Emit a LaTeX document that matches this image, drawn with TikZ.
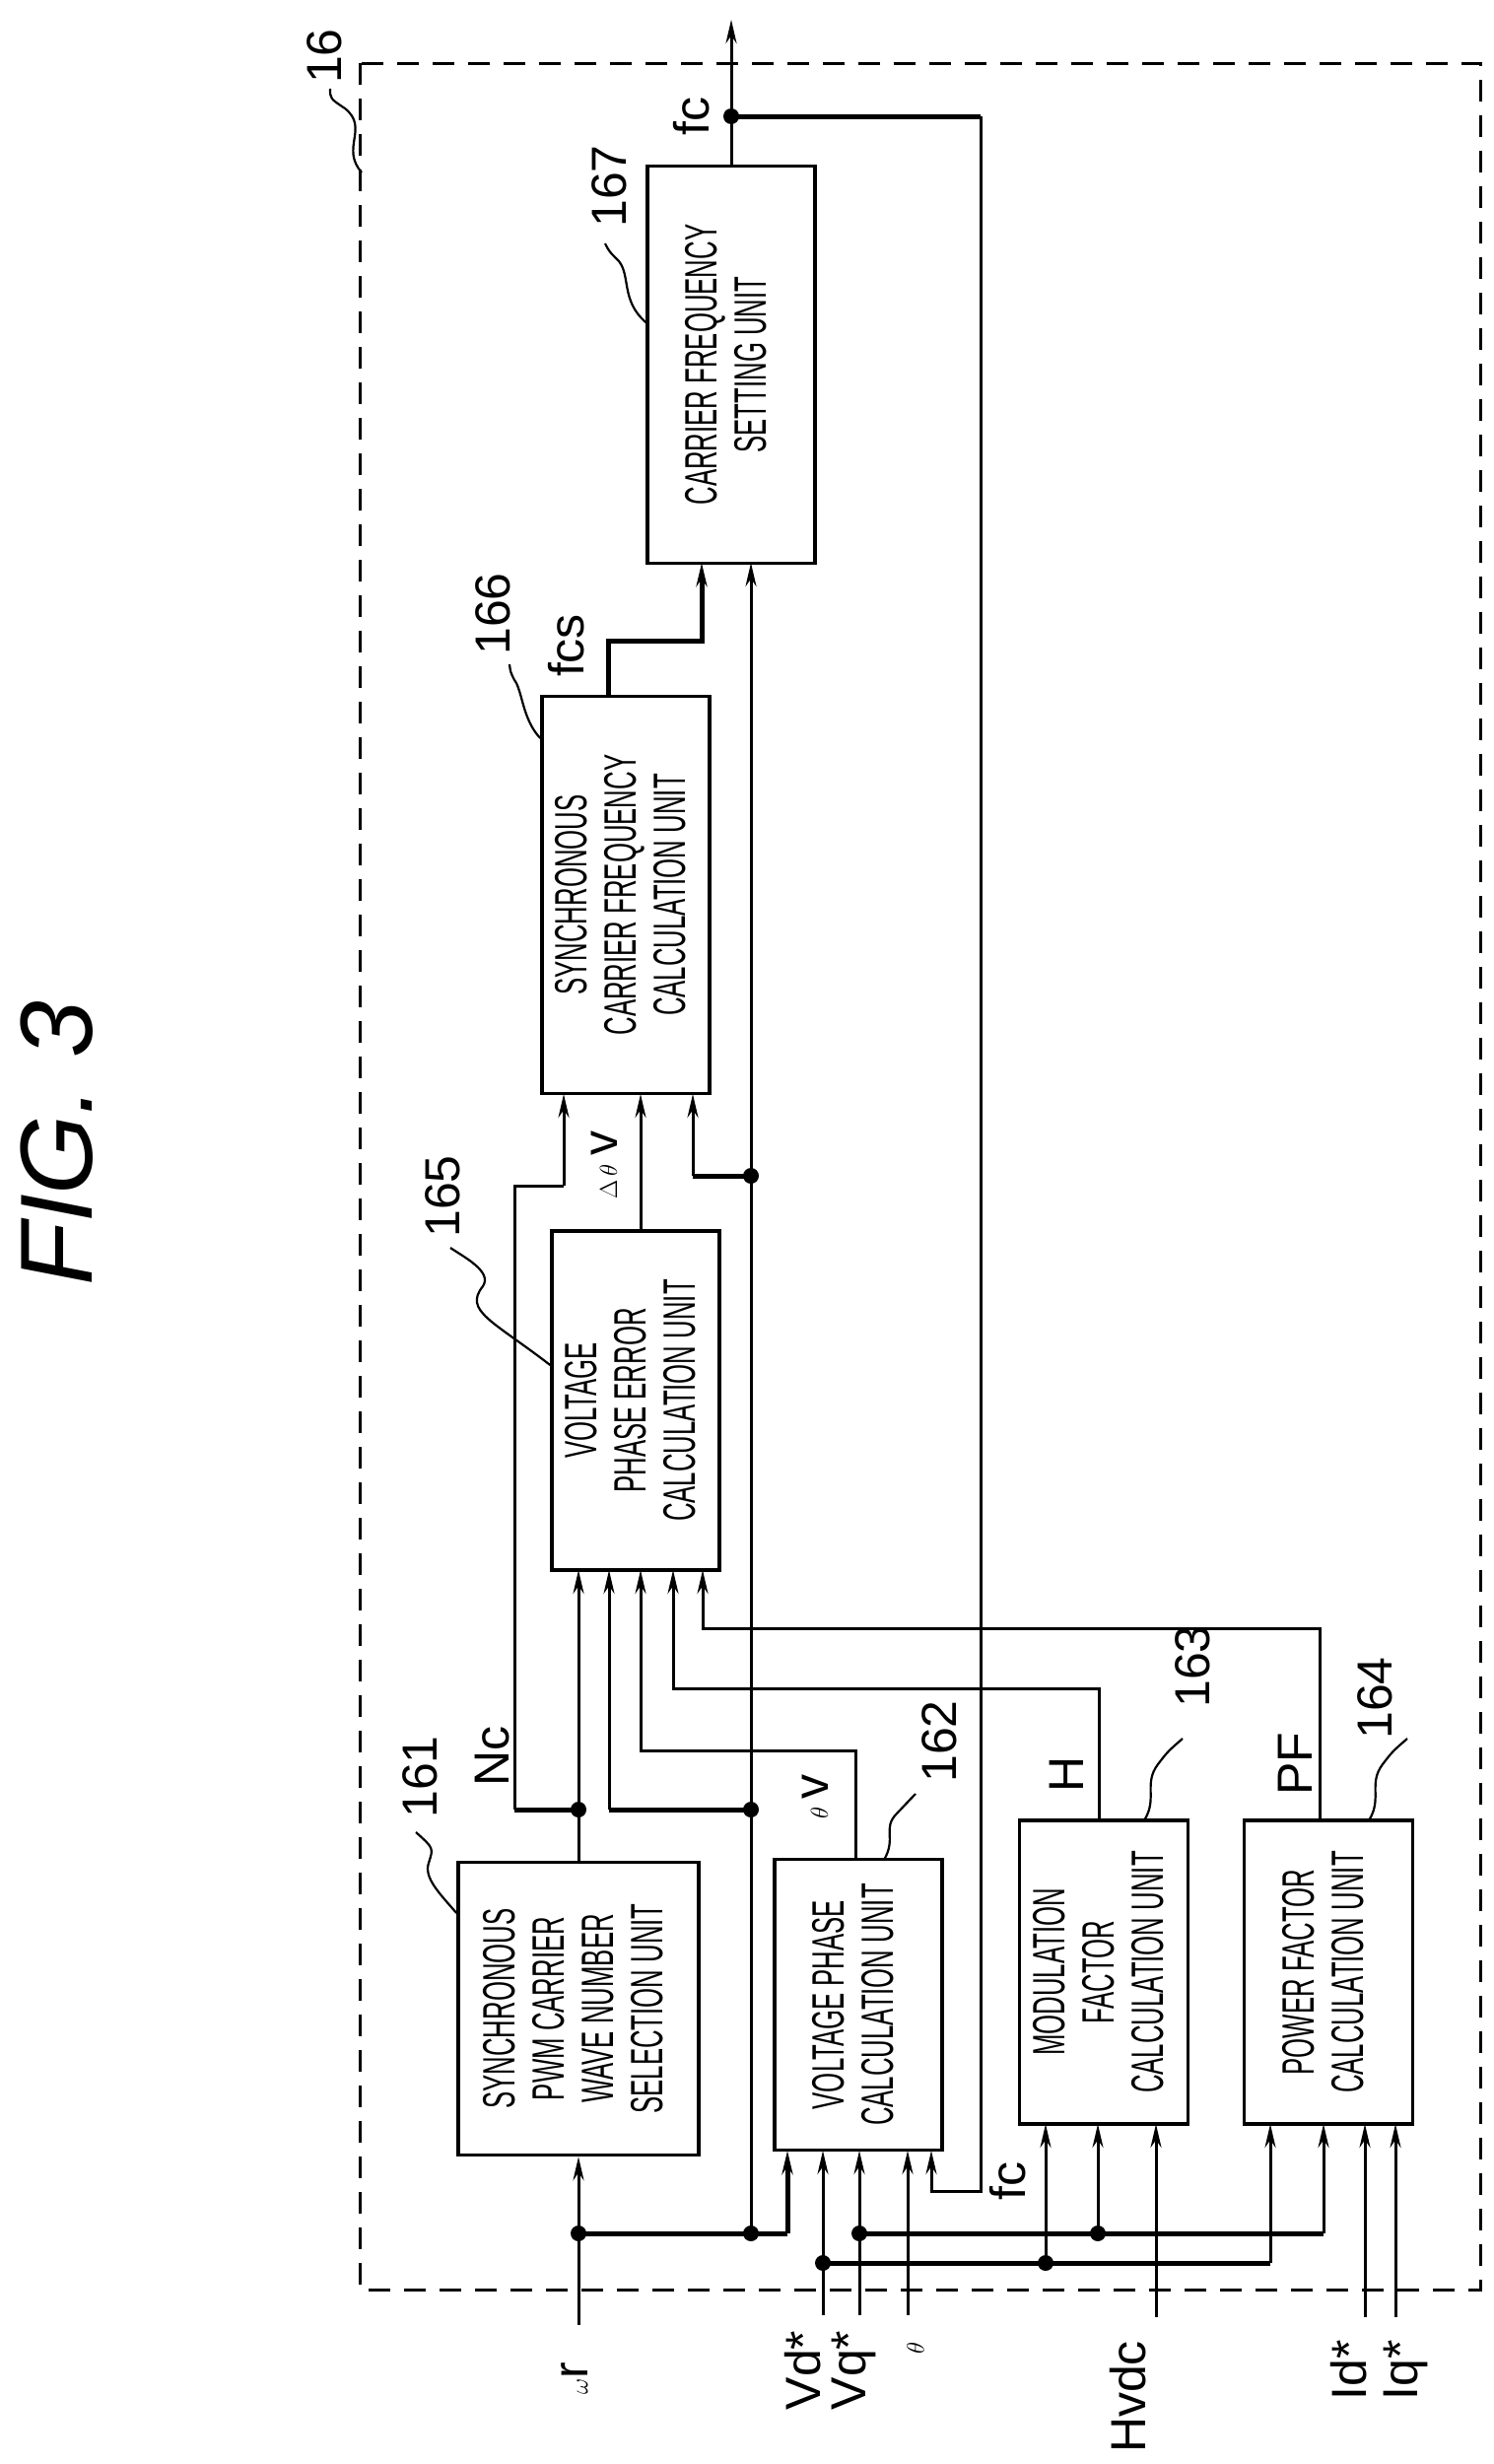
\documentclass[tikz,border=0pt]{standalone}
\usepackage{fontspec}
\setmainfont{Liberation Sans}
\usetikzlibrary{arrows.meta}
\begin{document}
\begin{tikzpicture}[x=1pt,y=-1pt,
  box/.style={draw,line width=3.5pt,inner sep=0pt,font=\fontsize{46}{50}\selectfont},
  thin/.style={line width=3pt},
  thick/.style={line width=5pt},
  arr/.style={-{Stealth[length=24pt,width=11pt]}},
  lbl/.style={rotate=90,font=\fontsize{50}{50}\selectfont,inner sep=0pt},
  num/.style={rotate=90,font=\fontsize{50}{50}\selectfont,inner sep=0pt},
  lead/.style={line width=2.2pt},
  dot/.style={circle,fill,inner sep=0pt,minimum size=16pt}]
\useasboundingbox (0,0) rectangle (1515,2500);
\newcommand\cnd[1]{\rotatebox{90}{\scalebox{0.56}[1]{\begin{tabular}{c}#1\end{tabular}}}}
% frame
\draw[line width=3pt,dash pattern=on 22pt off 14pt] (365,64) rectangle (1502,2323);
\node[num] (n16) at (329,57) {16};
\draw[lead] (367,175) .. controls (345,150) and (375,130) .. (350,110) .. controls (335,100) .. (335,90);
\node[rotate=90,font=\itshape\fontsize{104}{104}\selectfont,inner sep=0pt] (title) at (58,1160) {FIG. 3};
% boxes
\node[box,minimum width=170pt,minimum height=403pt] (b167) at (742,370) {\cnd{CARRIER FREQUENCY\\SETTING UNIT}};
\node[box,minimum width=170pt,minimum height=403pt] (b166) at (635,908) {\cnd{SYNCHRONOUS\\CARRIER FREQUENCY\\CALCULATION UNIT}};
\node[box,minimum width=170pt,minimum height=344pt] (b165) at (645,1421) {\cnd{VOLTAGE\\PHASE ERROR\\CALCULATION UNIT}};
\node[box,minimum width=244pt,minimum height=297pt] (b161) at (587,2038) {\cnd{SYNCHRONOUS\\PWM CARRIER\\WAVE NUMBER\\SELECTION UNIT}};
\node[box,minimum width=170pt,minimum height=295pt] (b162) at (871,2034) {\cnd{VOLTAGE PHASE\\CALCULATION UNIT}};
\node[box,minimum width=171pt,minimum height=308pt] (b163) at (1120,2001) {\cnd{MODULATION\\FACTOR\\CALCULATION UNIT}};
\node[box,minimum width=171pt,minimum height=308pt] (b164) at (1348,2001) {\cnd{POWER FACTOR\\CALCULATION UNIT}};
% reference numbers
\node[num] (n167) at (618,189) {167};
\draw[lead] (b167.west |- 0,327) .. controls (630,305) and (640,280) .. (628,265) .. controls (618,255) .. (614,247);
\node[num] (n166) at (500,623) {166};
\draw[lead] (b166.west |- 0,749) .. controls (530,730) and (530,700) .. (522,690) .. controls (518,682) .. (517,674);
\node[num] (n165) at (449,1214) {165};
\draw[lead] (b165.west |- 0,1385) .. controls (500,1340) and (470,1330) .. (490,1305) .. controls (500,1290) and (470,1275) .. (457,1266);
\node[num] (n161) at (426,1803) {161};
\draw[lead] (b161.west |- 0,1941) .. controls (445,1920) and (430,1905) .. (435,1890) .. controls (440,1875) .. (422,1859);
\node[num] (n162) at (953,1767) {162};
\draw[lead] (897,1887) .. controls (910,1865) and (895,1855) .. (910,1840) .. controls (920,1830) .. (929,1820);
\node[num] (n163) at (1210,1691) {163};
\draw[lead] (1161,1847) .. controls (1175,1825) and (1160,1810) .. (1175,1790) .. controls (1185,1777) .. (1200,1764);
\node[num] (n164) at (1395,1723) {164};
\draw[lead] (1389,1847) .. controls (1403,1825) and (1388,1810) .. (1403,1790) .. controls (1413,1777) .. (1428,1764);
% coordinates
\coordinate (out) at (742,20);
\coordinate (jfc) at (742,118);
\coordinate (jw1) at (587,2266);
\coordinate (jw2) at (762,2266);
\coordinate (jw3) at (762,1836);
\coordinate (jw4) at (762,1193);
\coordinate (jnc) at (587,1836);
\coordinate (jvd) at (835,2296);
\coordinate (jvd2) at (1061,2296);
\coordinate (jvq) at (872,2266);
\coordinate (jvq2) at (1114,2266);
% output and fc feedback
\draw[thin,arr] (b167.north) -- (out);
\draw[thick] (jfc) -- (995,118);
\draw[thin,arr] (995,118) -- (995,2223) -- (945,2223) -- (945,2182);
\node[lbl] (lfc) at (702,118) {fc};
\node[lbl] (lfc2) at (1023,2213) {fc};
% fcs
\draw[thick,arr] (617,707) -- (617,650) -- (712,650) -- (712,571);
\node[lbl] (lfcs) at (575,655) {fcs};
% omega bus
\node[lbl] (lw) at (583,2413) {$\omega$r};
\draw[thin,arr] (587,2359) -- (b161.south);
\draw[thick] (jw1) -- (799,2266);
\draw[thick,arr] (799,2266) -- (799,2182);
\draw[thin,arr] (jw2) -- (762,571);
\draw[thick] (jw4) -- (703,1193);
\draw[thin,arr] (703,1193) -- (703,1110);
\draw[thick] (jw3) -- (618,1836);
\draw[thin,arr] (618,1836) -- (618,1593);
% Nc
\draw[thin,arr] (b161.north) -- (587,1593);
\draw[thick] (jnc) -- (522,1836);
\draw[thin] (522,1836) -- (522,1203) -- (572,1203);
\draw[thin,arr] (572,1203) -- (572,1110);
\node[lbl] (lnc) at (500,1782) {Nc};
% delta theta v
\draw[thin,arr] (650,1249) -- (650,1110);
\node[lbl] (ldt) at (613,1182) {$\Delta\,\theta$\,v};
% theta v
\draw[thin,arr] (868,1887) -- (868,1776) -- (650,1776) -- (650,1593);
\node[lbl] (ltv) at (827,1823) {$\theta$\,v};
% H, PF
\draw[thin,arr] (1115,1847) -- (1115,1713) -- (683,1713) -- (683,1593);
\node[lbl] (lh) at (1082,1800) {H};
\draw[thin,arr] (1339,1847) -- (1339,1652) -- (713,1652) -- (713,1593);
\node[lbl] (lpf) at (1314,1790) {PF};
% Vd*, Vq*, theta
\draw[thin,arr] (835,2349) -- (835,2182);
\draw[thick] (jvd) -- (1289,2296);
\draw[thin,arr] (1289,2296) -- (1289,2155);
\draw[thin,arr] (jvd2) -- (1061,2155);
\draw[thin,arr] (872,2349) -- (872,2182);
\draw[thick] (jvq) -- (1343,2266);
\draw[thin,arr] (1343,2266) -- (1343,2155);
\draw[thin,arr] (jvq2) -- (1114,2155);
\draw[thin,arr] (921,2349) -- (921,2182);
\node[lbl] (lvd) at (815,2405) {Vd*};
\node[lbl] (lvq) at (866,2405) {Vq*};
\node[lbl] (lth) at (929,2382) {$\theta$};
% Hvdc, Id*, Iq*
\draw[thin,arr] (1173,2351) -- (1173,2155);
\draw[thin,arr] (1385,2351) -- (1385,2155);
\draw[thin,arr] (1416,2351) -- (1416,2155);
\node[lbl] (lhv) at (1145,2432) {Hvdc};
\node[lbl] (lid) at (1369,2405) {Id*};
\node[lbl] (liq) at (1426,2405) {Iq*};
% dots
\foreach \c in {jfc,jw1,jw2,jw3,jw4,jnc,jvd,jvd2,jvq,jvq2} \node[dot] at (\c) {};
\end{tikzpicture}
\end{document}
